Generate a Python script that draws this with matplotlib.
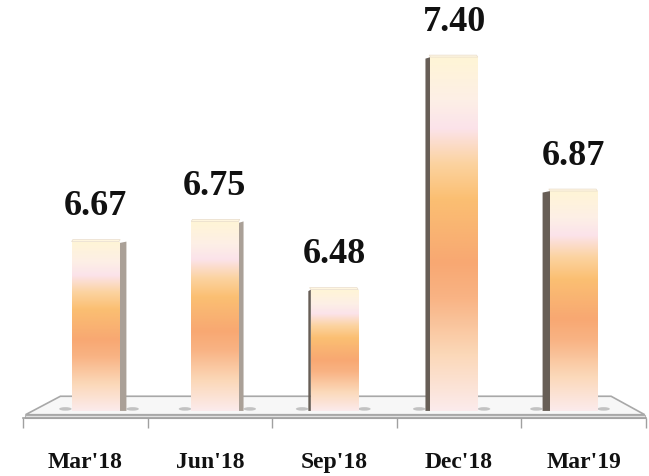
import numpy as np
import matplotlib
matplotlib.use("Agg")
import matplotlib.pyplot as plt
from matplotlib.colors import LinearSegmentedColormap
from matplotlib.patches import Polygon, Ellipse

quarters = ["Mar'18", "Jun'18", "Sep'18", "Dec'18", "Mar'19"]
values = [6.67, 6.75, 6.48, 7.40, 6.87]

base = 6.0
ymin, ymax = 5.972, 7.63

# front face shading, bottom -> top
face_cmap = LinearSegmentedColormap.from_list("face", [
    (0.00, "#fcebec"),
    (0.16, "#fbd8b8"),
    (0.32, "#f9b384"),
    (0.42, "#f8a872"),
    (0.60, "#fbbf72"),
    (0.70, "#fcd3a0"),
    (0.80, "#fbe3ea"),
    (0.88, "#fdefe6"),
    (1.00, "#fff5d6"),
])

fig = plt.figure(figsize=(6.49, 4.77), dpi=100)
ax = fig.add_axes([23 / 649, 58 / 477, 623 / 649, 419 / 477])
ax.set_xlim(-0.5, len(quarters) - 0.5)
ax.set_ylim(ymin, ymax)

# floor plane under the bars
x0, x1 = -0.5, len(quarters) - 0.5
floor_top = Polygon([(x0 + 0.02, 5.985), (x1 - 0.01, 5.985), (x1 - 0.28, 6.058),
                     (x0 + 0.30, 6.058)], closed=True, facecolor="#f7f7f7",
                    edgecolor="#a8a8a8", lw=1.2, zorder=1, clip_on=False)
floor_front = Polygon([(x0 + 0.02, 5.972), (x1 - 0.01, 5.972), (x1 - 0.01, 5.985),
                       (x0 + 0.02, 5.985)], closed=True, facecolor="#e4e4e4",
                      edgecolor="#b4b4b4", lw=0.8, zorder=1, clip_on=False)
ax.add_patch(floor_front)
ax.add_patch(floor_top)

# bars pulled slightly toward the middle for the perspective look
centre = (len(quarters) - 1) / 2
xs = [centre + (i - centre) * 0.96 for i in range(len(quarters))]
width = 0.38

grad = np.linspace(0, 1, 256).reshape(-1, 1)
bars = ax.bar(xs, [v - base for v in values], width=width, bottom=base,
              color="none", edgecolor="none", zorder=3)

for i, (rect, v) in enumerate(zip(bars, values)):
    left = rect.get_x()
    right = left + rect.get_width()
    im = ax.imshow(grad, cmap=face_cmap, origin="lower", aspect="auto",
                   extent=[left, right, base, v], zorder=3)
    im.set_clip_path(rect)

    # side face, on the side turned toward the middle
    side = 0.02 + 0.02 * abs(i - centre)
    if i < centre:
        sx0, sx1, scol = right, right + side, "#aaa097"
    else:
        sx0, sx1, scol = left - side, left, "#675e56"
    ax.add_patch(Polygon([(sx0, base), (sx1, base), (sx1, v), (sx0, v - 0.006)],
                         closed=True, facecolor=scol, edgecolor="none", zorder=2.9))
    # top cap
    lean = 0.01 if i < centre else -0.01
    ax.add_patch(Polygon([(left, v), (right, v), (right + lean, v + 0.008),
                          (left + lean, v + 0.008)],
                         closed=True, facecolor="#fff6e0", edgecolor="#e8dccb",
                         lw=0.5, zorder=3.1))
    # soft shadows on the floor
    for sx in (min(left, sx0) - 0.05, max(right, sx1) + 0.05):
        ax.add_patch(Ellipse((sx, 6.008), 0.10, 0.014, facecolor="#8f8f8f",
                             edgecolor="none", alpha=0.5, zorder=2))

    ax.annotate(f"{v:.2f}", xy=(rect.get_x() + width / 2, v), xytext=(0, 14),
                textcoords="offset points", ha="center", va="bottom",
                fontsize=26, fontweight="bold", family="Liberation Serif",
                color="#111111")

ax.set_xlim(-0.5, len(quarters) - 0.5)
ax.set_ylim(ymin, ymax)

for s in ("top", "right", "left"):
    ax.spines[s].set_visible(False)
ax.spines["bottom"].set_color("#a0a0a0")
ax.spines["bottom"].set_linewidth(1.2)
ax.set_yticks([])

ax.set_xticks(np.arange(-0.5, len(quarters)), minor=False)
ax.set_xticklabels([])
ax.tick_params(axis="x", which="major", length=7, width=1, color="#a0a0a0")
ax.set_xticks(range(len(quarters)), minor=True)
ax.set_xticklabels(quarters, minor=True, fontsize=17, fontweight="bold",
                   family="Liberation Serif", color="#111111")
ax.tick_params(axis="x", which="minor", length=0, pad=24)

fig.savefig("out.png", dpi=100)
